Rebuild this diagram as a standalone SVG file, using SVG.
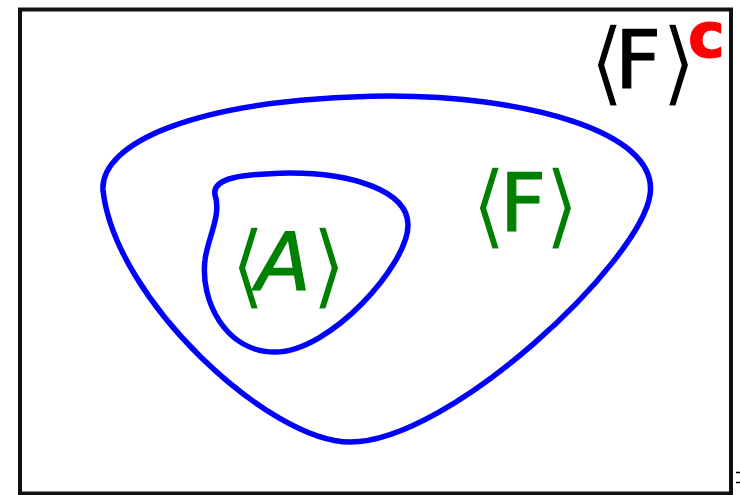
<svg xmlns="http://www.w3.org/2000/svg" width="740" height="495" viewBox="0 0 740 495">
<style>
.frame{fill:#fff;stroke:#111;stroke-width:4}
.set{fill:none;stroke:#0000ff;stroke-width:5.5;stroke-linejoin:round}
.lbl{font-family:"DejaVu Sans",sans-serif;font-size:80px;stroke-width:1.2;stroke-linejoin:round}
.br{font-size:92px;font-style:normal;stroke:#fff;stroke-width:1.3;paint-order:fill stroke}
.green{fill:#008000;stroke:#008000}
.black{fill:#000;stroke:#000}
.sup{fill:#ff0000;stroke:#ff0000;font-size:62px;font-weight:bold}
</style>
<rect width="740" height="495" fill="#fff"/>
<g id="universe">
<rect class="frame" x="20" y="9.5" width="711" height="484"/>
<text class="lbl black"><tspan class="br" x="589" y="94">⟨</tspan><tspan x="615" y="88">F</tspan><tspan class="br" x="661" y="94">⟩</tspan><tspan class="sup" x="688" y="57">c</tspan></text>
</g>
<g id="setF">
<path class="set" d="M103,190 C100,145 190,98 390,96 C520,96 660,130 650,195 C640,262 450,442 350,442 C270,442 115,300 103,190 Z"/>
<text class="lbl green"><tspan class="br" x="471" y="237">⟨</tspan><tspan x="500" y="231">F</tspan><tspan class="br" x="544" y="237">⟩</tspan></text>
</g>
<g id="setA">
<path class="set" d="M215,195 C212,178 240,174 290,173 C350,173 408,190 408,225 C408,265 330,352 275,352 C225,352 200,300 205,260 C207,240 222,215 215,195 Z"/>
<text class="lbl green" font-size="76"><tspan class="br" x="230" y="297">⟨</tspan><tspan x="256" y="290" font-style="italic">A</tspan><tspan class="br" x="311" y="297">⟩</tspan></text>
</g>
<g id="connectors"/>
<g id="edge-marks" stroke="#000" stroke-width="1.5">
<line x1="736" y1="472.5" x2="740" y2="472.5"/>
<line x1="736" y1="482.5" x2="740" y2="482.5"/>
</g>
</svg>
